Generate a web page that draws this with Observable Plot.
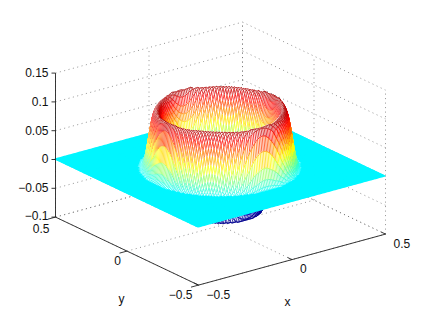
<!DOCTYPE html>
<html><head><meta charset="utf-8">
<script src="https://cdn.jsdelivr.net/npm/d3@7"></script>
<script src="https://cdn.jsdelivr.net/npm/@observablehq/plot@0.6"></script>
<style>html,body{margin:0;background:#fff}svg{display:block}</style>
</head><body><div id="chart"></div>
<script>
// values
const radii     = [0, .18, .195, .205, .215, .225, .24, .26, .27, .28, .29, .30, .31, .32, .33, .34, .8];
const zDiagonal = [-.07, -.07, -.05, -.025, 0, .028, .066, .1, .102, .098, .086, .066, .04, .018, .005, 0, 0];
const zOnAxis   = [-.07, -.07, -.055, -.03, -.012, .012, .05, .08, .098, .105, .095, .064, .03, .01, .002, 0, 0];
const zTicks = [-.1, -.05, 0, .05, .1, .15];
const zTickLabels = ["−0.1", "−0.05", "0", "0.05", "0.1", "0.15"];
const xyTicks = [-.5, 0, .5];
const xyTickLabels = ["−0.5", "0", "0.5"];
const jetPositions = [-.065, -.043, 0, .043, .087, .108];
const jetColors = ["#00008f", "#0000ff", "#00ffff", "#ffff00", "#ff0000", "#800000"];
const gridCount = 120;

// orthographic view of the 3-D box
const px = (X, Y) => 220 + 187 * X - 143 * Y;
const py = (X, Y, Z) => 167.5 - 51 * X - 68 * Y - 576 * Z;

const profileAt = d3.scaleLinear().domain(radii);
const diag = profileAt.copy().range(zDiagonal), axis = profileAt.copy().range(zOnAxis);
const height = (X, Y) => {
  const r = Math.hypot(X, Y), th = Math.atan2(Y, X), t = ((1 + Math.cos(4 * th)) / 2) ** 2;
  return diag(r) * (1 - t) + axis(r) * t;
};
const vertex = (X, Y) => { const Z = height(X, Y); return {sx: px(X, Y), sy: py(X, Y, Z), Z}; };
const gridLine = d3.range(gridCount + 1).map(i => -.5 + i / gridCount);
const table = gridLine.map(Y => gridLine.map(X => vertex(X, Y)));

const channels = {x1: "x1", y1: "y1", x2: "x2", y2: "y2"};
const surface = [];
for (let j = gridCount - 1; j >= 0; j--) {
  const back = table[j + 1], front = table[j];
  const bumpy = i => i >= 0 && i < gridCount &&
    (back[i].Z !== 0 || back[i + 1].Z !== 0 || front[i].Z !== 0 || front[i + 1].Z !== 0);
  const flatPts = [], bumpPts = [], edges = [];
  let run = 0;
  for (let i = 0; i <= gridCount; i++) {
    const p = {x1: back[i].sx, y1: back[i].sy, x2: front[i].sx, y2: front[i].sy};
    const isBump = bumpy(i) || bumpy(i - 1);
    if (isBump) bumpPts.push(p);
    const cellFlat = !bumpy(i) && i < gridCount;
    if (cellFlat || (i > 0 && !bumpy(i - 1))) flatPts.push({...p, run});
    if (i > 0 && !bumpy(i - 1) && bumpy(i)) run++;
  }
  if (flatPts.length) surface.push(Plot.area(flatPts, {...channels, z: "run", fill: "#00f6ff", stroke: "#00f6ff", strokeWidth: 1.2}));
  if (bumpPts.length) {
    surface.push(Plot.area(bumpPts, {...channels, fill: "white"}));
    const edge = (a, b) => edges.push({x1: a.sx, y1: a.sy, x2: b.sx, y2: b.sy, z: (a.Z + b.Z) / 2});
    for (let i = gridCount; i >= 0; i--) {
      if (bumpy(i) || bumpy(i - 1)) edge(back[i], front[i]);
      if (bumpy(i - 1)) { edge(back[i], back[i - 1]); edge(front[i], front[i - 1]); }
    }
    surface.push(Plot.link(edges, {...channels, stroke: "z", strokeWidth: .75}));
  }
}

const seg = (a, b) => ({x1: px(a[0], a[1]), y1: py(...a), x2: px(b[0], b[1]), y2: py(...b)});
const zMin = -.1, zMax = .15;
const dotted = [];
for (const z of zTicks) {
  dotted.push(seg([-.5, .5, z], [.5, .5, z]), seg([.5, .5, z], [.5, -.5, z]));
}
for (const t of xyTicks) {
  dotted.push(seg([t, .5, zMin], [t, .5, zMax]), seg([.5, t, zMin], [.5, t, zMax]));
  dotted.push(seg([t, -.5, zMin], [t, .5, zMin]), seg([-.5, t, zMin], [.5, t, zMin]));
}
const solid = [seg([-.5, .5, zMin], [-.5, .5, zMax]), seg([-.5, .5, zMin], [-.5, -.5, zMin]), seg([-.5, -.5, zMin], [.5, -.5, zMin])];
const ticks = [];
for (const z of zTicks) { const s = seg([-.5, .5, z], [-.5, .5, z]); s.x2 -= 4; ticks.push(s); }
for (const t of xyTicks) {
  ticks.push(seg([t, -.5, zMin], [t, -.47, zMin]));
  ticks.push(seg([-.5, t, zMin], [-.54, t, zMin]));
}
const endLabels = [
  ...zTicks.map((z, i) => ({x: px(-.5, .5) - 7, y: py(-.5, .5, z) - (z === -.1 ? 1 : 0), text: zTickLabels[i]})),
  ...xyTicks.map((t, i) => ({x: px(-.5, t) - 6, y: py(-.5, t, zMin) + (t === .5 ? 12 : 10.5), text: xyTickLabels[i]}))
];
const startLabels = xyTicks.map((t, i) => ({x: px(t, -.5) + 8, y: py(t, -.5, zMin) + 10, text: xyTickLabels[i]}));
const axisTitles = [{x: 287, y: 302, text: "x"}, {x: 121, y: 299, text: "y"}];
const textMark = (data, textAnchor) => Plot.text(data, {x: "x", y: "y", text: "text", textAnchor, fontSize: 12, fill: "#111"});

const plot = Plot.plot({
  width: 425, height: 320, margin: 0,
  x: {domain: [0, 425], range: [0, 425], axis: null},
  y: {domain: [0, 320], range: [0, 320], axis: null},
  color: {type: "linear", domain: jetPositions, range: jetColors, interpolate: "rgb", clamp: true},
  style: {fontFamily: "Liberation Sans", background: "white"},
  marks: [
    Plot.link(dotted, {...channels, stroke: "#666", strokeWidth: .7, strokeDasharray: "1 3.5"}),
    ...surface,
    Plot.link(solid, {...channels, stroke: "#222", strokeWidth: .9}),
    Plot.link(ticks, {...channels, stroke: "#222", strokeWidth: .9}),
    textMark(endLabels, "end"), textMark(startLabels, "start"), textMark(axisTitles, "middle")
  ]
});
document.getElementById("chart").append(plot);
</script></body></html>
